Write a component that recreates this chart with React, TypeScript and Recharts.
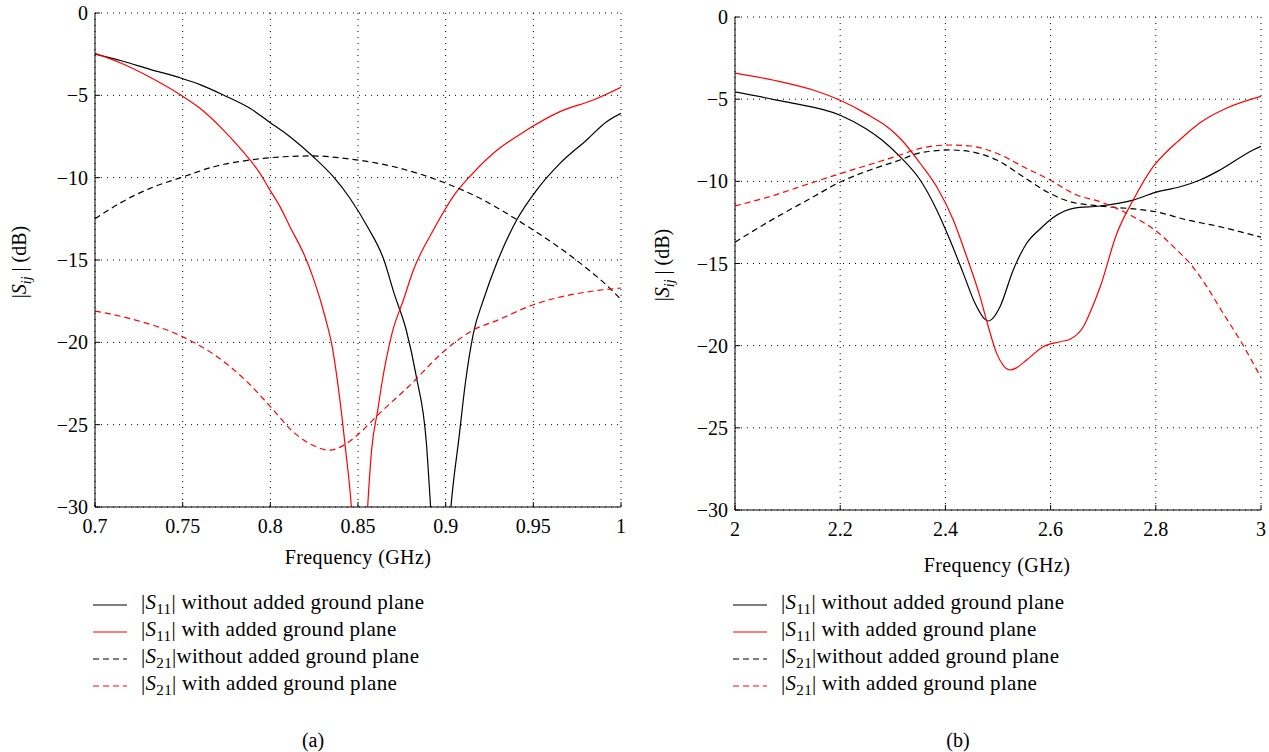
import { LineChart, Line, XAxis, YAxis, CartesianGrid } from "recharts";

const FONT = "'Liberation Serif', 'Times New Roman', serif";

// (a) 0.7 - 1 GHz  [freq GHz, dB]
const aS11Without: [number, number][] = [
  [0.7, -2.5], [0.715, -2.9], [0.7314, -3.42], [0.7489, -3.95], [0.7599, -4.35], [0.7732, -4.98],
  [0.7884, -5.79], [0.7992, -6.6], [0.8112, -7.51], [0.8245, -8.73], [0.8359, -9.94], [0.8454, -11.25],
  [0.8555, -13.0], [0.8648, -15.0], [0.8705, -17.0], [0.8775, -19.25], [0.8833, -22.1], [0.889, -26.1],
  [0.8914, -30], [0.897, -40], [0.903, -30], [0.9077, -25.7], [0.9112, -22.5], [0.9158, -19.45],
  [0.9215, -17.43], [0.9291, -15.2], [0.9405, -12.57], [0.9519, -10.75], [0.9652, -9.13],
  [0.9804, -7.71], [0.9918, -6.6], [1.0, -6.09],
];
const aS11With: [number, number][] = [
  [0.7, -2.45], [0.715, -3.05], [0.7314, -3.9], [0.7489, -4.98], [0.7599, -5.79], [0.7713, -6.9],
  [0.7827, -8.2], [0.7884, -8.92], [0.7941, -9.74], [0.7992, -10.65], [0.8055, -11.76], [0.8112, -12.98],
  [0.8198, -14.8], [0.8245, -16.1], [0.8311, -18.4], [0.8357, -20.5], [0.8392, -23.1], [0.8427, -26.3],
  [0.8462, -30], [0.851, -40], [0.8555, -30], [0.8578, -26.5], [0.8613, -24.1], [0.8636, -22.5],
  [0.8694, -19.45], [0.8759, -17.43], [0.8816, -15.61], [0.893, -13.18], [0.9063, -10.85],
  [0.912, -10.14], [0.9272, -8.52], [0.9462, -7.11], [0.9652, -5.99], [0.9842, -5.28], [1.0, -4.51],
];
const aS21Without: [number, number][] = [
  [0.7, -12.5], [0.715, -11.5], [0.7314, -10.65], [0.7489, -10.0], [0.7694, -9.29], [0.7884, -8.93],
  [0.8074, -8.73], [0.8245, -8.68], [0.8454, -8.87], [0.86, -9.1], [0.874, -9.43], [0.8987, -10.28],
  [0.9215, -11.36], [0.9424, -12.67], [0.9614, -13.99], [0.9804, -15.5], [0.9937, -16.72], [1.0, -17.4],
];
const aS21With: [number, number][] = [
  [0.7, -18.1], [0.7232, -18.65], [0.75, -19.66], [0.7696, -20.87], [0.7858, -22.3], [0.8, -23.9],
  [0.8137, -25.5], [0.8253, -26.3], [0.8334, -26.55], [0.8427, -26.2], [0.85, -25.6], [0.8624, -24.3],
  [0.8787, -22.7], [0.8995, -20.5], [0.9158, -19.25], [0.9297, -18.65], [0.9497, -17.73],
  [0.9633, -17.3], [0.98, -16.95], [1.0, -16.7],
];

// (b) 2 - 3 GHz
const bS11Without: [number, number][] = [
  [2.0, -4.56], [2.097, -5.17], [2.2, -5.98], [2.249, -6.8], [2.28, -7.5], [2.3137, -8.5],
  [2.352, -9.92], [2.3835, -11.74], [2.4087, -13.57], [2.434, -15.6], [2.4563, -17.42], [2.4753, -18.4],
  [2.482, -18.5], [2.488, -18.4], [2.5038, -17.63], [2.529, -15.39], [2.5545, -13.77], [2.58, -12.9],
  [2.605, -12.2], [2.643, -11.64], [2.694, -11.5], [2.757, -11.14], [2.798, -10.69], [2.846, -10.33],
  [2.884, -9.92], [2.922, -9.31], [2.985, -8.09], [3.0, -7.87],
];
const bS11With: [number, number][] = [
  [2.0, -3.41], [2.074, -3.85], [2.15, -4.46], [2.2, -5.07], [2.249, -5.88], [2.294, -6.8],
  [2.3137, -7.38], [2.352, -8.9], [2.3835, -10.33], [2.415, -12.35], [2.4405, -14.59], [2.4658, -17.02],
  [2.4816, -18.85], [2.4975, -20.47], [2.51, -21.2], [2.5228, -21.48], [2.535, -21.35], [2.5545, -20.87],
  [2.586, -20.06], [2.6179, -19.76], [2.6369, -19.61], [2.6622, -18.85], [2.68, -17.6], [2.694, -16.45],
  [2.726, -13.16], [2.757, -11.14], [2.795, -9.11], [2.824, -8.09], [2.841, -7.6], [2.886, -6.39],
  [2.932, -5.58], [3.0, -4.83],
];
const bS21Without: [number, number][] = [
  [2.0, -13.7], [2.074, -12.27], [2.143, -11.05], [2.2, -10.04], [2.264, -9.23], [2.3137, -8.7],
  [2.352, -8.26], [2.4087, -8.09], [2.4468, -8.19], [2.4975, -8.7], [2.548, -9.72], [2.5926, -10.63],
  [2.6369, -11.24], [2.694, -11.5], [2.764, -11.7], [2.8, -11.85], [2.859, -12.35], [2.916, -12.72],
  [3.0, -13.4],
];
const bS21With: [number, number][] = [
  [2.0, -11.5], [2.074, -10.85], [2.143, -10.12], [2.2, -9.53], [2.264, -8.9], [2.3137, -8.4],
  [2.352, -7.99], [2.4087, -7.79], [2.4468, -7.85], [2.4975, -8.29], [2.548, -9.11], [2.5989, -9.92],
  [2.6496, -10.83], [2.694, -11.24], [2.757, -12.15], [2.798, -12.96], [2.84, -14.18], [2.865, -14.99],
  [2.897, -16.41], [2.928, -18.03], [2.96, -19.65], [3.0, -21.95],
];

const aTicks = [0.7, 0.75, 0.8, 0.85, 0.9, 0.95, 1];
const bTicks = [2, 2.2, 2.4, 2.6, 2.8, 3];
const dbTicks = [-30, -25, -20, -15, -10, -5, 0];

const legendLabels = [
  { sub: "11", text: " without added ground plane", color: "#000", dash: "" },
  { sub: "11", text: " with added ground plane", color: "#ff0000", dash: "" },
  { sub: "21", text: "without added ground plane", color: "#000", dash: "6 4" },
  { sub: "21", text: " with added ground plane", color: "#ff0000", dash: "6 4" },
];

const GAP_X = 12;
const GAP_Y = 7;
const IN = 5;

const fmt = (v: number) => String(v).replace("-", "\u2212");

const BottomTick = ({ x, y, payload }: any) => (
  <g>
    <line x1={x} x2={x} y1={y - GAP_X} y2={y - GAP_X - IN} stroke="#000" />
    <text x={x} y={y} dy="0.71em" textAnchor="middle" fontSize={20} fontFamily={FONT} fill="#000">
      {fmt(payload.value)}
    </text>
  </g>
);
const LeftTick = ({ x, y, payload }: any) => (
  <g>
    <line x1={x + GAP_Y} x2={x + GAP_Y + IN} y1={y} y2={y} stroke="#000" />
    <text x={x} y={y} dy="0.35em" textAnchor="end" fontSize={20} fontFamily={FONT} fill="#000">
      {fmt(payload.value)}
    </text>
  </g>
);
const TopTick = ({ x, y }: any) => <line x1={x} x2={x} y1={y} y2={y + IN} stroke="#000" />;
const RightTick = ({ x, y }: any) => <line x1={x} x2={x - IN} y1={y} y2={y} stroke="#000" />;

type Series = [number, number][];

function Panel(props: {
  series: Series[];
  domain: [number, number];
  ticks: number[];
  width: number;
  height: number;
  margin: { top: number; right: number; left: number; bottom: number };
  xHeight: number;
}) {
  const { series, domain, ticks, width, height, margin, xHeight } = props;
  const styles = [
    { stroke: "#000", dash: undefined },
    { stroke: "#ff0000", dash: undefined },
    { stroke: "#000", dash: "6 4" },
    { stroke: "#ff0000", dash: "6 4" },
  ];
  return (
    <LineChart width={width} height={height} margin={margin}>
      <CartesianGrid stroke="#000" strokeDasharray="1 5" strokeWidth={1} />
      <XAxis
        dataKey="f"
        type="number"
        domain={domain}
        ticks={ticks}
        allowDataOverflow
        height={xHeight}
        tickSize={0}
        tickMargin={GAP_X}
        tickLine={false}
        axisLine={{ stroke: "#000" }}
        tick={<BottomTick />}
        interval={0}
      />
      <XAxis
        xAxisId="top"
        orientation="top"
        type="number"
        domain={domain}
        ticks={ticks}
        allowDataOverflow
        height={0}
        tickSize={0}
        tickMargin={0}
        tickLine={false}
        axisLine={{ stroke: "#000" }}
        tick={<TopTick />}
        interval={0}
      />
      <YAxis
        type="number"
        domain={[-30, 0]}
        ticks={dbTicks}
        allowDataOverflow
        width={95}
        tickSize={0}
        tickMargin={GAP_Y}
        tickLine={false}
        axisLine={{ stroke: "#000" }}
        tick={<LeftTick />}
        interval={0}
      />
      <YAxis
        yAxisId="right"
        orientation="right"
        type="number"
        domain={[-30, 0]}
        ticks={dbTicks}
        allowDataOverflow
        width={0}
        tickSize={0}
        tickMargin={0}
        tickLine={false}
        axisLine={{ stroke: "#000" }}
        tick={<RightTick />}
        interval={0}
      />
      {series.map((s, i) => (
        <Line
          key={i}
          data={s.map(([f, v]) => ({ f, v }))}
          dataKey="v"
          type="monotone"
          stroke={styles[i].stroke}
          strokeDasharray={styles[i].dash}
          strokeWidth={1.2}
          dot={false}
          activeDot={false}
          isAnimationActive={false}
        />
      ))}
    </LineChart>
  );
}

function YTitle({ x, y }: { x: number; y: number }) {
  return (
    <div
      style={{
        position: "absolute",
        left: x,
        top: y,
        transform: "translate(-50%, -50%) rotate(-90deg)",
        whiteSpace: "nowrap",
        fontSize: 20,
        fontFamily: FONT,
      }}
    >
      |<i>S</i>
      <sub style={{ fontSize: 14, fontStyle: "italic" }}>ij</sub> | (dB)
    </div>
  );
}

function XTitle({ x, y }: { x: number; y: number }) {
  return (
    <div
      style={{
        position: "absolute",
        left: x,
        top: y,
        transform: "translate(-50%, -50%)",
        whiteSpace: "nowrap",
        fontSize: 20,
        letterSpacing: 0.4,
        fontFamily: FONT,
      }}
    >
      Frequency (GHz)
    </div>
  );
}

function Legend({ x, y }: { x: number; y: number }) {
  return (
    <div style={{ position: "absolute", left: x, top: y, fontFamily: FONT, fontSize: 21, letterSpacing: 0.3 }}>
      {legendLabels.map((l, i) => (
        <div key={i} style={{ display: "flex", alignItems: "center", height: 27, whiteSpace: "nowrap" }}>
          <svg width={34} height={10} style={{ marginRight: 14 }}>
            <line x1={0} x2={34} y1={5} y2={5} stroke={l.color} strokeWidth={1.2} strokeDasharray={l.dash || undefined} />
          </svg>
          <span>
            |<i>S</i>
            <sub style={{ fontSize: 15 }}>{l.sub}</sub>|{l.text}
          </span>
        </div>
      ))}
    </div>
  );
}

function Caption({ x, y, text }: { x: number; y: number; text: string }) {
  return (
    <div
      style={{
        position: "absolute",
        left: x,
        top: y,
        transform: "translate(-50%, -50%)",
        fontSize: 20,
        fontFamily: FONT,
      }}
    >
      {text}
    </div>
  );
}

export default function App() {
  return (
    <div style={{ position: "absolute", left: 0, top: 0, width: 1269, height: 752, background: "#fff", overflow: "hidden" }}>
      <div style={{ position: "absolute", left: 0, top: 0 }}>
        <Panel
          series={[aS11Without, aS11With, aS21Without, aS21With]}
          domain={[0.7, 1]}
          ticks={aTicks}
          width={640}
          height={600}
          margin={{ top: 13, right: 19, left: 0, bottom: 0 }}
          xHeight={93}
        />
      </div>
      <div style={{ position: "absolute", left: 640, top: 0 }}>
        <Panel
          series={[bS11Without, bS11With, bS21Without, bS21With]}
          domain={[2, 3]}
          ticks={bTicks}
          width={629}
          height={600}
          margin={{ top: 17, right: 8, left: 0, bottom: 0 }}
          xHeight={90}
        />
      </div>
      <YTitle x={21} y={262} />
      <YTitle x={664} y={265} />
      <XTitle x={358} y={557} />
      <XTitle x={997} y={565} />
      <Legend x={93} y={591} />
      <Legend x={733} y={591} />
      <Caption x={313} y={740} text="(a)" />
      <Caption x={958} y={740} text="(b)" />
    </div>
  );
}
